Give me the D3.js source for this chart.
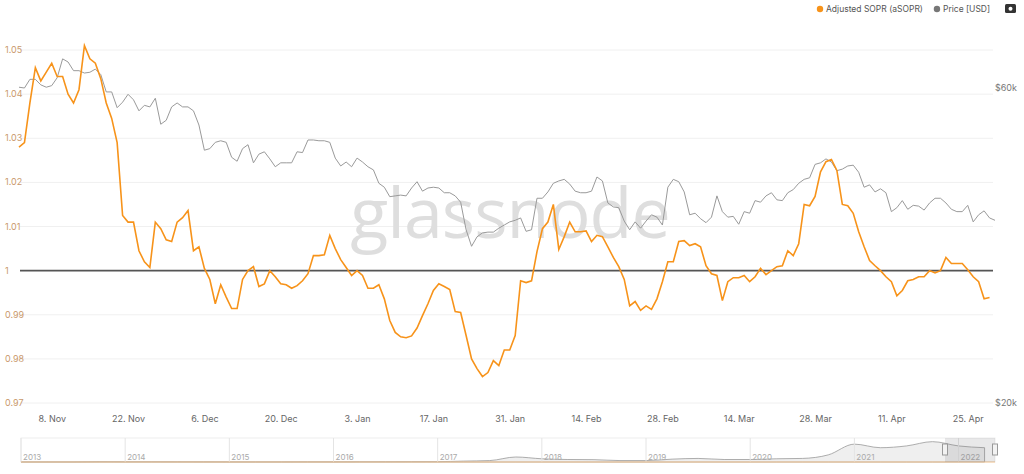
<!DOCTYPE html>
<html>
<head>
<meta charset="utf-8">
<script src="https://cdn.jsdelivr.net/npm/d3@7"></script>
<style>
  body { margin: 0; background: #fff; font-family: Inter, "Open Sans", sans-serif; }
</style>
</head>
<body>
<div id="chart"></div>
<script>
// daily values from 2 Nov 2021
const startDate = new Date(2021, 10, 2);

const sopr = [
  1.028, 1.029, 1.038, 1.046, 1.043, 1.045, 1.047, 1.044, 1.044, 1.040,
  1.038, 1.041, 1.051, 1.048, 1.047, 1.0435, 1.038, 1.0345, 1.029, 1.0125,
  1.011, 1.011, 1.0045, 1.002, 1.0007, 1.011, 1.0095, 1.007, 1.0066, 1.011,
  1.012, 1.0136, 1.0045, 1.0054, 1.0005, 0.998, 0.9925, 0.9968, 0.994, 0.9914,
  0.9914, 0.998, 1.0, 1.0009, 0.9964, 0.997, 1.0, 0.9986, 0.997, 0.9968,
  0.996, 0.9966, 0.9977, 0.9993, 1.0034, 1.0034, 1.0036, 1.008, 1.005, 1.0025,
  1.0007, 0.9989, 1.0,
  0.9989, 0.996, 0.996, 0.9968, 0.9936, 0.9887, 0.986, 0.985, 0.9848, 0.9852,
  0.987, 0.9898, 0.9925, 0.9955, 0.997, 0.9964, 0.9957, 0.9907, 0.9905, 0.9853,
  0.98, 0.9778, 0.976, 0.9769, 0.9796, 0.9785, 0.982, 0.982, 0.9853, 0.9977,
  0.9973, 0.9977, 1.0043, 1.0095, 1.011, 1.015, 1.0048, 1.0077, 1.011, 1.0088,
  1.0088, 1.009, 1.0066, 1.008, 1.0077, 1.0054, 1.003, 1.0009, 0.998, 0.992,
  0.993, 0.991, 0.992, 0.9912, 0.9936, 0.9975, 1.002, 1.002, 1.0066,
  1.0068, 1.0057, 1.0061, 1.0054, 1.0011, 0.9993, 0.9989, 0.9932, 0.9975, 0.9984,
  0.9984, 0.9989, 0.9975, 0.9986, 1.0005, 0.9991, 1.0, 1.0009, 1.0011, 1.0045,
  1.0034, 1.0061, 1.015, 1.0147, 1.0168, 1.0224, 1.0247, 1.0252, 1.0227, 1.015,
  1.0147, 1.013, 1.0088, 1.0054, 1.0023, 1.0011, 1.0, 0.9986, 0.9975, 0.9943,
  0.9955, 0.9977, 0.998, 0.9986, 0.9986, 1.0, 0.9995, 1.0, 1.003, 1.0016,
  1.0016, 1.0016, 1.0002, 0.9986, 0.9975, 0.9936, 0.9939
];

const price = [
  60.1, 60.0, 61.1, 61.1, 60.4, 60.1, 60.3, 61.3, 63.7, 63.3,
  62.2, 62.2, 61.9, 62.0, 62.4, 61.7, 59.5, 59.5, 57.5, 58.2,
  59.2, 58.5, 57.1, 57.8, 57.6, 58.7, 55.4, 55.9, 57.6, 58.1,
  57.6, 57.6, 57.1, 55.3, 52.1, 52.3, 53.1, 53.3, 53.1, 51.2,
  50.7, 52.3, 52.8, 50.5, 51.6, 51.9, 51.0, 50.0, 50.5, 50.5,
  50.5, 51.9, 51.8, 53.4, 53.4, 53.3, 53.3, 53.1, 51.1, 50.1,
  50.6, 50.0, 51.1,
  50.6, 50.0, 49.6, 47.9, 47.4, 46.2, 46.3, 46.4, 46.3, 47.3,
  48.1, 46.9, 47.3, 47.4, 47.3, 46.7, 46.7, 46.3, 45.5, 42.0,
  39.9, 41.1, 41.6, 41.7, 41.7, 42.2, 42.6, 43.0, 43.2, 43.5,
  41.8, 42.0, 46.0, 46.0, 46.8, 47.9, 48.2, 48.4, 47.8, 46.9,
  46.7, 46.7, 46.9, 48.7, 48.2, 45.4, 44.9, 44.8, 43.1, 42.0,
  43.0, 42.2, 43.1, 43.9, 43.6, 42.6, 47.4, 48.4, 48.1,
  46.8, 43.9, 44.1, 43.4, 42.9, 43.6, 46.3, 44.3, 43.6, 43.7,
  42.7, 44.3, 44.1, 45.7, 45.5, 46.3, 46.7, 45.8, 45.7, 46.7,
  47.1, 47.9, 48.4, 48.6, 50.3, 50.5, 51.0, 50.6, 49.5, 49.7,
  50.1, 50.2, 49.3, 47.4, 47.7, 46.8, 47.2, 46.7, 44.3, 44.8,
  45.7, 44.6, 45.1, 45.0, 44.5, 45.4, 46.0, 46.0, 45.4, 44.6,
  44.3, 44.3, 45.1, 43.0, 43.9, 44.4, 43.5, 43.2
].map(d => d * 1000);

const soprTicks = [0.97, 0.98, 0.99, 1, 1.01, 1.02, 1.03, 1.04, 1.05];
const priceTicks = [20000, 60000];
const years = [2013, 2014, 2015, 2016, 2017, 2018, 2019, 2020, 2021, 2022];
// rough quarterly price history for the navigator (k USD)
const history = [0.1, 0.1, 0.1, 0.8, 0.6, 0.6, 0.5, 0.4, 0.3, 0.25, 0.25, 0.4,
  0.4, 0.6, 0.65, 0.9, 1, 2.5, 4, 14, 9, 7, 6.5, 4, 4, 8, 10, 7, 7, 9, 10, 20,
  50, 40, 45, 57, 45, 40];

const W = 1024, H = 474;
const svg = d3.select("#chart").append("svg").attr("width", W).attr("height", H);

const day = i => d3.timeDay.offset(startDate, i);
const x = d3.scaleTime()
  .domain([startDate, day(179)])
  .range([19, 995]);
const y = d3.scaleLinear().domain([0.97, 1.05]).range([403, 50]);
const y2 = d3.scaleLinear().domain([20000, 60000]).range([403, 88]);

// grid
svg.append("g").selectAll("line").data(soprTicks).join("line")
  .attr("x1", 20).attr("x2", 993)
  .attr("y1", d => y(d)).attr("y2", d => y(d))
  .attr("stroke", "#f0f0f0");

// watermark
svg.append("text").attr("x", 510).attr("y", 238)
  .attr("text-anchor", "middle").attr("font-size", 70)
  .attr("font-family", "'Open Sans', sans-serif")
  .attr("fill", "#dedede").attr("letter-spacing", -1).text("glassnode");

// left axis labels
svg.append("g").selectAll("text").data(soprTicks).join("text")
  .attr("x", 5).attr("y", d => y(d) + 3)
  .attr("font-size", 9).attr("fill", "#c9996c")
  .text(d => d === 1 ? "1" : d3.format(".2f")(d));

// right axis labels
svg.append("g").selectAll("text").data(priceTicks).join("text")
  .attr("x", 1017).attr("y", d => y2(d) + 3).attr("text-anchor", "end")
  .attr("font-size", 9).attr("fill", "#777")
  .text(d => "$" + d / 1000 + "k");

// baseline at 1
svg.append("line").attr("x1", 20).attr("x2", 993)
  .attr("y1", y(1)).attr("y2", y(1))
  .attr("stroke", "#555").attr("stroke-width", 1.6);

// price line
svg.append("path").datum(price)
  .attr("fill", "none").attr("stroke", "#9a9a9a").attr("stroke-width", 1)
  .attr("d", d3.line().x((d, i) => x(day(i))).y(d => y2(d)));

// sopr line
svg.append("path").datum(sopr)
  .attr("fill", "none").attr("stroke", "#f7931a").attr("stroke-width", 1.6)
  .attr("d", d3.line().x((d, i) => x(day(i))).y(d => y(d)));

// x axis
const xAxis = d3.axisBottom(x)
  .tickValues(d3.range(6, 180, 14).map(day))
  .tickFormat(d3.timeFormat("%-d. %b"))
  .tickSize(0).tickPadding(8);
const gx = svg.append("g").attr("transform", "translate(0,408)").call(xAxis);
gx.select(".domain").remove();
gx.selectAll("text").attr("font-size", 9).attr("fill", "#666")
  .attr("font-family", "Inter, sans-serif");

// legend
const legend = [["Adjusted SOPR (aSOPR)", "#f7931a"], ["Price [USD]", "#777"]];
let lx = 820;
legend.forEach(([t, c]) => {
  svg.append("circle").attr("cx", lx).attr("cy", 9).attr("r", 3.2).attr("fill", c);
  const tx = svg.append("text").attr("x", lx + 6).attr("y", 12)
    .attr("font-size", 8.5).attr("fill", "#555").text(t);
  lx += tx.node().getComputedTextLength() + 20;
});
// camera icon
svg.append("rect").attr("x", 1005).attr("y", 4).attr("width", 11).attr("height", 9)
  .attr("rx", 1.5).attr("fill", "#333");
svg.append("circle").attr("cx", 1010.5).attr("cy", 8.7).attr("r", 2).attr("fill", "#fff");

// navigator
const nx = d3.scaleLinear().domain([2013, 2022.35]).range([21, 995]);
const ny = d3.scaleLinear().domain([0, 70]).range([462, 437]);
const nav = svg.append("g");
nav.append("rect").attr("x", 21).attr("y", 438).attr("width", 974).attr("height", 24)
  .attr("fill", "none").attr("stroke", "#eee");
const area = d3.area().x((d, i) => nx(2013 + i / 4)).y0(462).y1(d => ny(d))
  .curve(d3.curveMonotoneX);
nav.append("path").datum(history).attr("fill", "#efefef").attr("stroke", "#999")
  .attr("stroke-width", 0.8).attr("d", area);
nav.selectAll("line.yr").data(years).join("line")
  .attr("x1", d => nx(d)).attr("x2", d => nx(d)).attr("y1", 438).attr("y2", 462)
  .attr("stroke", "#e4e4e4");
nav.selectAll("text").data(years).join("text")
  .attr("x", d => nx(d) + 2).attr("y", 460).attr("font-size", 8).attr("fill", "#aaa")
  .text(d => d);
nav.append("line").attr("x1", 21).attr("x2", 995).attr("y1", 462).attr("y2", 462)
  .attr("stroke", "#f5c590");
nav.append("rect").attr("x", 945).attr("y", 438)
  .attr("width", 50).attr("height", 24).attr("fill", "rgba(100,100,110,0.15)");
[945, 995].forEach(hx => nav.append("rect").attr("x", hx - 2.5).attr("y", 444)
  .attr("width", 5).attr("height", 11).attr("fill", "#f2f2f2").attr("stroke", "#999"));
</script>
</body>
</html>
